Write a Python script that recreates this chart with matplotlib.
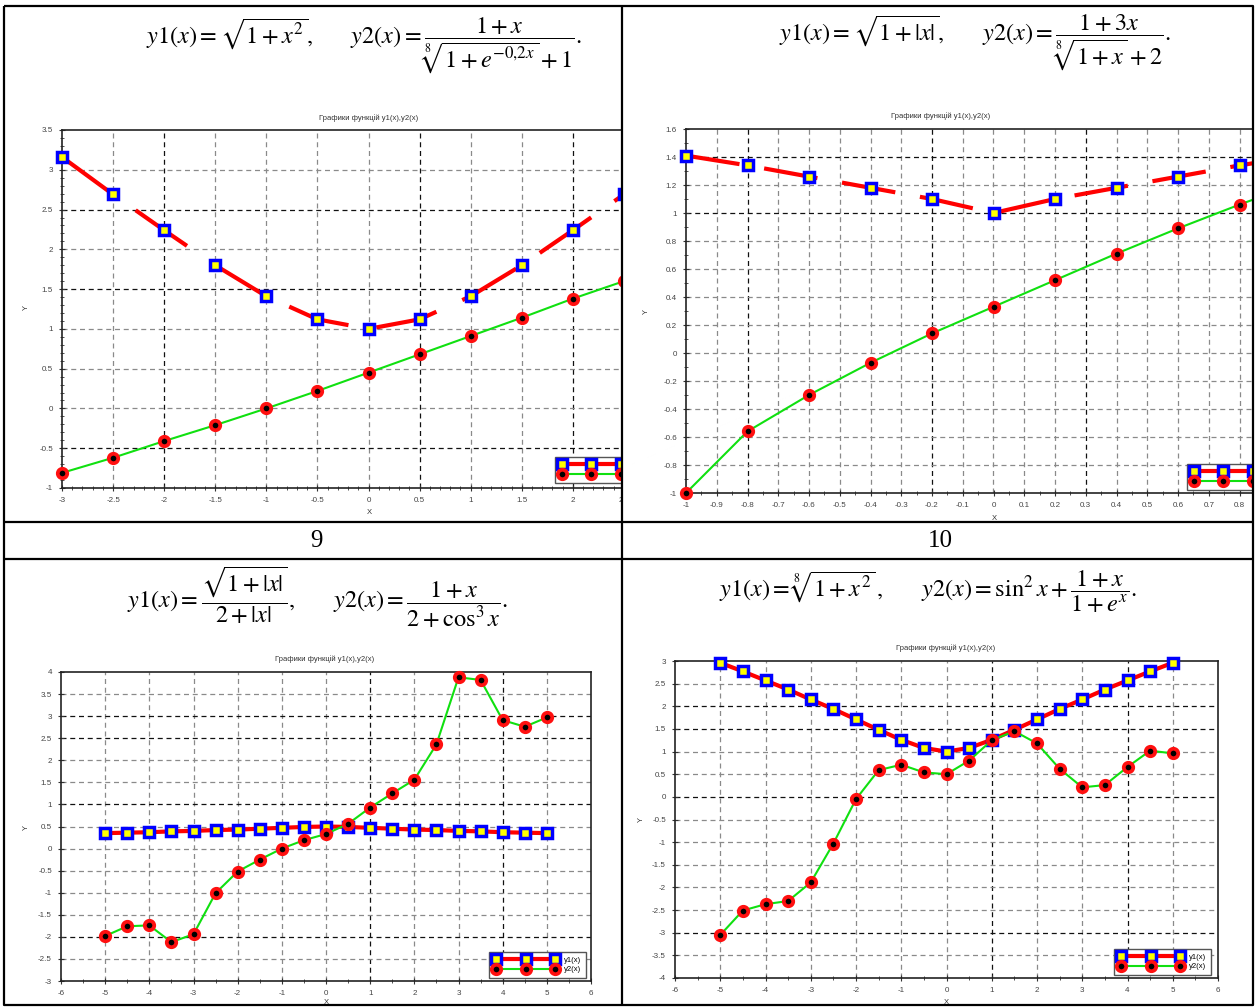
import numpy as np
import matplotlib
matplotlib.use("Agg")
import matplotlib.pyplot as plt
from matplotlib.lines import Line2D
from matplotlib.ticker import MultipleLocator, FuncFormatter

W, H = 1257, 1008

# variant 9 (top left)
x_a = [-3.0, -2.5, -2.0, -1.5, -1.0, -0.5, 0.0, 0.5, 1.0, 1.5, 2.0, 2.5, 3.0]
y1_a = [3.16, 2.69, 2.24, 1.80, 1.41, 1.12, 1.00, 1.12, 1.41, 1.80, 2.24, 2.69, 3.16]
y2_a = [-0.81, -0.62, -0.41, -0.21, 0.00, 0.22, 0.45, 0.68, 0.91, 1.14, 1.38, 1.60, 1.83]

# variant 9 (top right)
x_b = [-1.0, -0.8, -0.6, -0.4, -0.2, 0.0, 0.2, 0.4, 0.6, 0.8, 1.0]
y1_b = [1.41, 1.34, 1.26, 1.18, 1.10, 1.00, 1.10, 1.18, 1.26, 1.34, 1.41]
y2_b = [-1.00, -0.56, -0.30, -0.07, 0.14, 0.33, 0.52, 0.71, 0.89, 1.06, 1.22]

# variant 10 (bottom left)
x_c = [-5.0, -4.5, -4.0, -3.5, -3.0, -2.5, -2.0, -1.5, -1.0, -0.5, 0.0,
       0.5, 1.0, 1.5, 2.0, 2.5, 3.0, 3.5, 4.0, 4.5, 5.0]
y1_c = [0.35, 0.36, 0.37, 0.39, 0.40, 0.42, 0.43, 0.45, 0.47, 0.49, 0.50,
        0.49, 0.47, 0.45, 0.43, 0.42, 0.40, 0.39, 0.37, 0.36, 0.35]
y2_c = [-1.98, -1.76, -1.74, -2.12, -1.94, -1.01, -0.52, -0.25, 0.00, 0.19, 0.33,
        0.56, 0.93, 1.25, 1.56, 2.36, 3.88, 3.82, 2.91, 2.76, 2.97]

# variant 10 (bottom right)
x_d = x_c
y1_d = [2.96, 2.77, 2.57, 2.37, 2.15, 1.94, 1.71, 1.48, 1.26, 1.08, 1.00,
        1.08, 1.26, 1.48, 1.71, 1.94, 2.15, 2.37, 2.57, 2.77, 2.96]
y2_d = [-3.05, -2.51, -2.37, -2.30, -1.89, -1.03, -0.05, 0.59, 0.71, 0.54, 0.50,
        0.80, 1.25, 1.45, 1.18, 0.62, 0.21, 0.26, 0.66, 1.02, 0.96]

TITLE = "Графики функцій y1(x),y2(x)"
LABELS = ["y1(x)", "y2(x)"]

plt.rcParams['font.family'] = ['Liberation Sans', 'DejaVu Sans']
plt.rcParams['mathtext.fontset'] = 'stix'
plt.rcParams['axes.unicode_minus'] = False

fig = plt.figure(figsize=(W / 100, H / 100), dpi=100)


def box(l, t, r, b):
    return [l / W, 1 - b / H, (r - l) / W, (b - t) / H]


def make_fmt(hide_above):
    def fmt(v, _):
        if v > hide_above + 1e-9:
            return ""
        if abs(v) < 1e-9:
            return "0"
        return "%g" % round(v, 3)
    return FuncFormatter(fmt)


RED = '#ff0000'
GREEN = '#10e010'
sq = dict(marker='s', ms=6.5, mfc='#ffff00', mec='#0000ff', mew=2.5)
ci = dict(marker='o', ms=6.8, mfc='black', mec='#ff1010', mew=2.7)


def panel(rect, xs, y1, y2, xlim, ylim, xstep, ystep, xmin, ymin,
          dark_x, dark_y, dashes, leg_loc, leg_anchor, z,
          x_hide=99, show_labels=True):
    ax = fig.add_axes(box(*rect), zorder=z)
    ax.set_xlim(xlim)
    ax.set_ylim(ylim)
    ax.xaxis.set_major_locator(MultipleLocator(xstep))
    ax.yaxis.set_major_locator(MultipleLocator(ystep))
    ax.xaxis.set_minor_locator(MultipleLocator(xmin))
    ax.yaxis.set_minor_locator(MultipleLocator(ymin))
    ax.xaxis.set_major_formatter(make_fmt(x_hide))
    ax.yaxis.set_major_formatter(make_fmt(99))
    ax.tick_params(which='major', direction='inout', length=5, width=0.8,
                   labelsize=5.8, labelcolor='#444', color='#333', pad=4)
    ax.tick_params(which='minor', direction='inout', length=3, width=0.6, color='#333')
    for s in ax.spines.values():
        s.set_color('#222')
        s.set_linewidth(1.2)

    # dashed grid, some lines come out darker
    for v in np.arange(xlim[0] + xstep, xlim[1] - xstep / 2, xstep):
        c = '#111' if round(v, 3) in dark_x else '#8a8a8a'
        ax.axvline(v, color=c, lw=0.9, ls=(0, (4, 3)), zorder=1)
    for v in np.arange(ylim[0] + ystep, ylim[1] - ystep / 2, ystep):
        c = '#111' if round(v, 3) in dark_y else '#8a8a8a'
        ax.axhline(v, color=c, lw=0.9, ls=(0, (4, 3)), zorder=1)

    ls = (0, dashes) if dashes else '-'
    ax.plot(xs, y1, color=RED, lw=3, ls=ls, clip_on=False, zorder=3, **sq)
    ax.plot(xs, y2, color=GREEN, lw=1.5, clip_on=False, zorder=4, **ci)

    h1 = Line2D([], [], color=RED, lw=3, **sq)
    h2 = Line2D([], [], color=GREEN, lw=1.5, **ci)
    leg = ax.legend([h1, h2], LABELS, loc=leg_loc, bbox_to_anchor=leg_anchor,
                    numpoints=3, handlelength=8.3, fontsize=5.5, frameon=True,
                    fancybox=False, edgecolor='#555', framealpha=1,
                    borderpad=0.6, labelspacing=0.3, handletextpad=0.9,
                    borderaxespad=0)
    leg.get_frame().set_linewidth(1.0)
    leg.set_zorder(6)
    if not show_labels:
        # the legend runs past the cell border, its labels fall outside
        for t in leg.get_texts():
            t.set_visible(False)
    return ax


def cover(l, t, r, b, z):
    c = fig.add_axes(box(l, t, r, b), zorder=z)
    c.set_xticks([])
    c.set_yticks([])
    for s in c.spines.values():
        s.set_visible(False)
    c.set_facecolor('white')


panel((62, 130, 675, 488), x_a, y1_a, y2_a, (-3, 3), (-1, 3.5), 0.5, 0.5, 0.1, 0.1,
      [-2.0, 0.5, 2.0], [2.5, 1.5, -0.5], (15, 6.8),
      'lower left', ((555 - 62) / 613, 5 / 358), 1, x_hide=2.5, show_labels=False)
cover(623, 0, 1257, 522, 1.5)
panel((686, 129, 1301, 493), x_b, y1_b, y2_b, (-1, 1), (-1, 1.6), 0.1, 0.2, 0.05, 0.1,
      [-0.8, -0.2, 0.3], [1.4, 1.0], (13, 6),
      'lower left', ((1187 - 686) / 615, 3 / 364), 2, x_hide=0.8, show_labels=False)
panel((61, 672, 591, 981), x_c, y1_c, y2_c, (-6, 6), (-3, 4), 1, 0.5, 0.5, 0.5,
      [1.0, 4.0], [3.0, 2.5, 1.0, -2.0], None,
      'lower right', (1 - 5 / 530, 3 / 309), 1)
panel((675, 661, 1218, 978), x_d, y1_d, y2_d, (-6, 6), (-4, 3), 1, 0.5, 0.5, 0.5,
      [1.0, 4.0], [2.0, 1.5, 0.0, -3.0], None,
      'lower right', (1 - 7 / 543, 3 / 317), 2)
cover(1254, 0, 1257, 1008, 2.5)

# table frame and all the lettering, in pixel units
ov = fig.add_axes([0, 0, 1, 1], zorder=10)
ov.set_xlim(0, W)
ov.set_ylim(H, 0)
ov.axis('off')
ov.patch.set_alpha(0)

lk = dict(color='black', lw=1.6, solid_capstyle='butt')
ov.plot([4, 1253, 1253, 4, 4], [6, 6, 1005, 1005, 6], **lk)
ov.plot([622, 622], [6, 1005], **lk)
ov.plot([4, 1253], [522, 522], **lk)
ov.plot([4, 1253], [559, 559], **lk)

ov.text(316, 541, "9", fontsize=18, family='Liberation Serif', ha='center', va='center')
ov.text(940, 541, "10", fontsize=18, family='Liberation Serif', ha='center', va='center')

ff = dict(fontsize=17.5, ha='center', va='center')
ov.text(364, 45, r"$y1(x) = \sqrt{1+x^2},\qquad y2(x) = \dfrac{1+x}{\sqrt[8]{1+e^{-0{,}2x}}+1}.$", **ff)
ov.text(975, 42, r"$y1(x) = \sqrt{1+|x|},\qquad y2(x) = \dfrac{1+3x}{\sqrt[8]{1+x}+2}.$", **ff)
ov.text(318, 597, r"$y1(x) = \dfrac{\sqrt{1+|x|}}{2+|x|},\qquad y2(x) = \dfrac{1+x}{2+\cos^3 x}.$", **ff)
ov.text(928, 592, r"$y1(x) = \sqrt[8]{1+x^2}\,,\qquad y2(x) = \sin^2 x + \dfrac{1+x}{1+e^x}.$", **ff)

tk = dict(fontsize=5.5, color='#333', ha='center', va='center')
for (tx, ty) in [(369, 118), (941, 116), (325, 659), (946, 648)]:
    ov.text(tx, ty, TITLE, **tk)
for (tx, ty) in [(369, 513), (994, 518), (326, 1003), (946, 1002)]:
    ov.text(tx, ty, "X", **tk)
for (tx, ty) in [(26, 308), (646, 312), (26, 827), (641, 820)]:
    ov.text(tx, ty, "Y", rotation=90, **tk)

fig.savefig("out.png", dpi=100)
